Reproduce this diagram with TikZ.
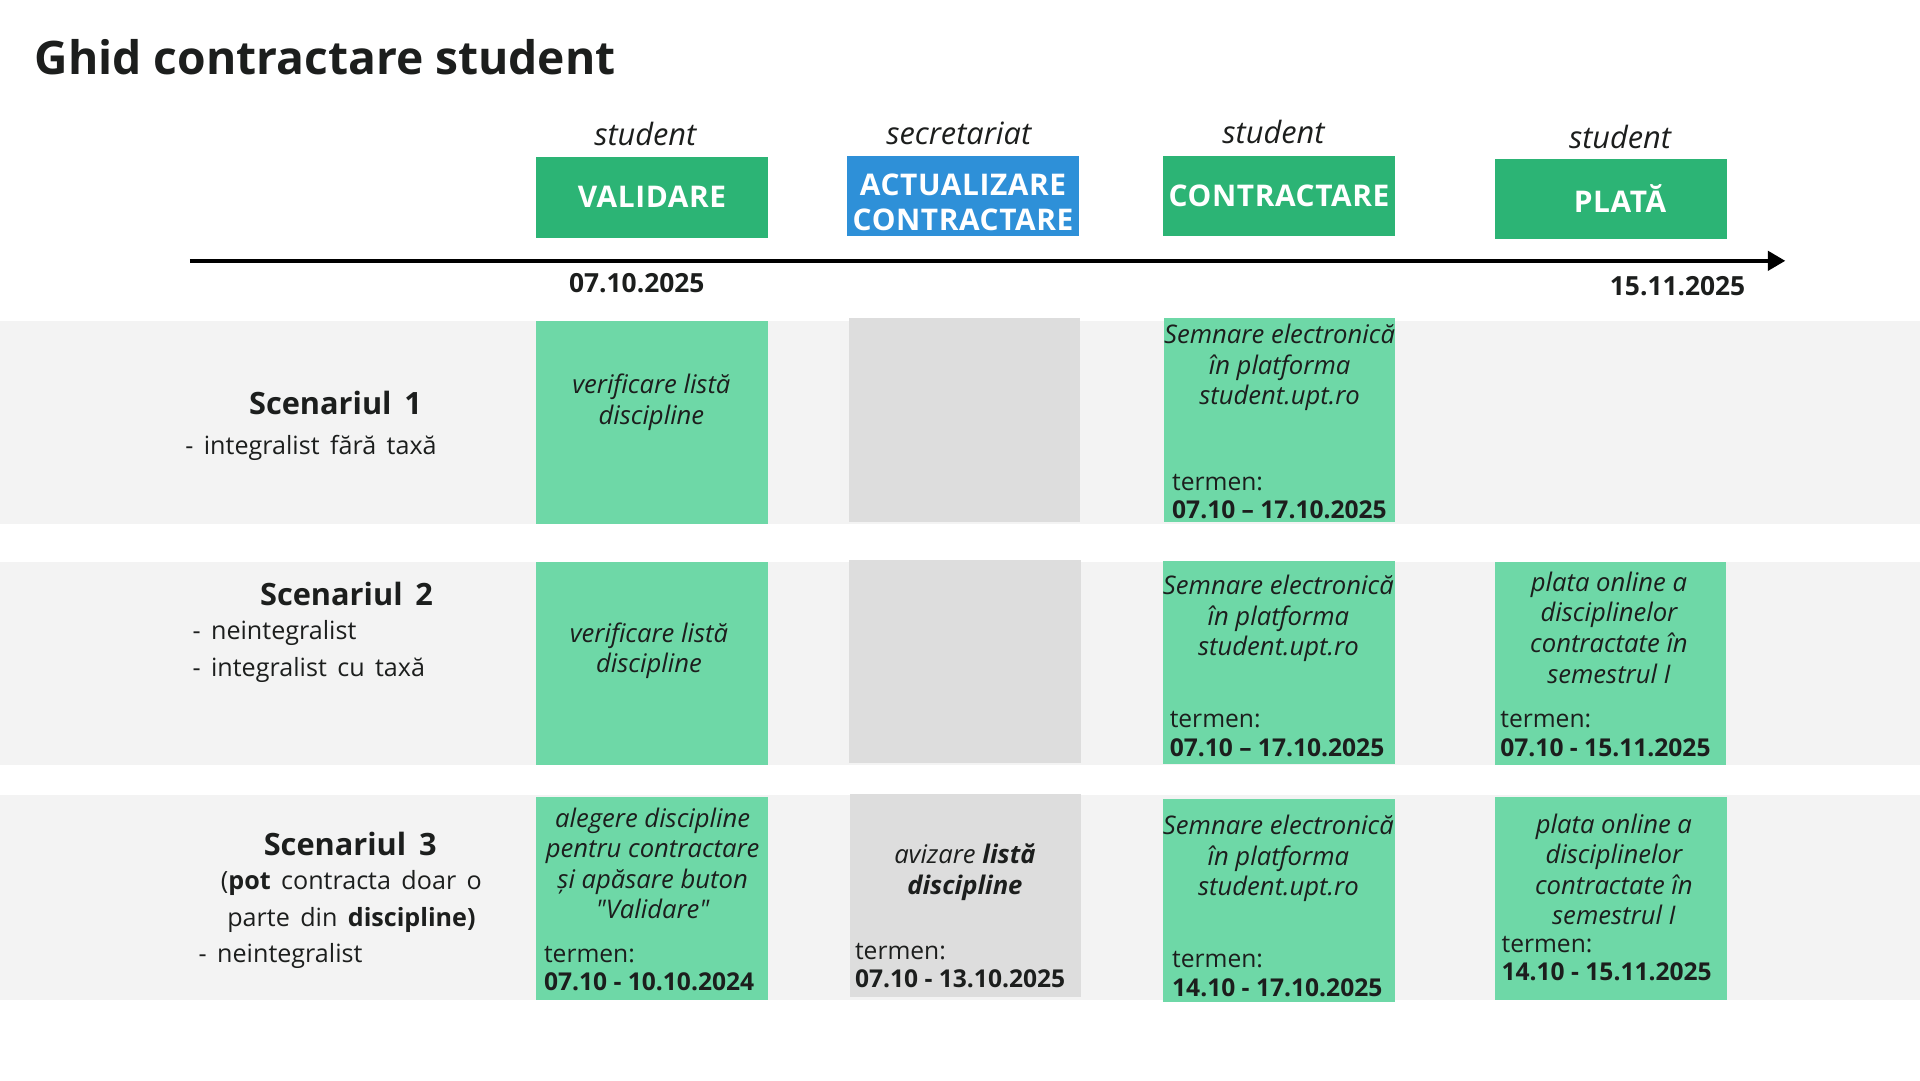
\documentclass[tikz,border=0pt]{standalone}
\usepackage{fontspec}
\setmainfont{Open Sans}
\newfontfamily\widefont{Open Sans}[WordSpace=1.6]
\newfontfamily\headfont{Open Sans}[LetterSpace=2]
\usetikzlibrary{arrows.meta,positioning}
\definecolor{headgreen}{RGB}{44,180,117}
\definecolor{headblue}{RGB}{46,144,216}
\definecolor{cellgreen}{RGB}{110,216,167}
\definecolor{cellgray}{RGB}{221,221,221}
\definecolor{band}{RGB}{243,243,243}
\definecolor{ink}{RGB}{28,30,29}
\newcommand\px{0.0245cm}
\tikzset{
  head/.style={fill=headgreen, text=white, font=\headfont\bfseries\fontsize{17}{20}\selectfont, minimum width=189*\px, minimum height=66*\px, inner sep=0pt, align=center},
  headtxt/.style={text=white, font=\headfont\bfseries\fontsize{17}{20}\selectfont, inner sep=0pt, align=center},
  role/.style={font=\itshape\fontsize{17.5}{20}\selectfont, text=ink, inner sep=0pt},
  cellg/.style={fill=cellgreen, minimum width=189*\px, minimum height=166*\px, inner sep=0pt},
  cellx/.style={cellg, fill=cellgray},
  celltxt/.style={font=\itshape\fontsize{14.6}{17.4}\selectfont, align=center, text=ink, inner sep=0pt},
  term/.style={font=\fontsize{14}{16}\selectfont, align=left, anchor=west, inner sep=0pt, text=ink},
  datum/.style={font=\bfseries\fontsize{15}{18}\selectfont, text=ink, inner sep=0pt},
  scen/.style={font=\bfseries\widefont\fontsize{17.5}{20}\selectfont, text=ink, inner sep=0pt},
  scensub/.style={font=\widefont\fontsize{14.3}{21}\selectfont, text=ink, inner sep=0pt}
}
\begin{document}
\begin{tikzpicture}[x=\px, y=-\px]
\useasboundingbox (0,0) rectangle (1568,882);
\fill[white] (0,0) rectangle (1568,882);
\node[anchor=base west, font=\bfseries\fontsize{26.3}{30}\selectfont, text=ink, inner sep=0pt] (title) at (28,61) {Ghid contractare student};

\node[role] (rval) at (527,109) {student};
\node[role] (ract) at (783,109) {secretariat};
\node[role] (rcon) at (1040,108) {student};
\node[role] (rpla) at (1323,112) {student};

\node[head] (val) at (532.5,161) {VALIDARE};
\node[head, fill=headblue] (act) at (786.5,160) {};
\node[headtxt] (acttxt) at (786.5,165.5) {ACTUALIZARE\\CONTRACTARE};
\node[head] (con) at (1044.5,160) {CONTRACTARE};
\node[head] (pla) at (1315.5,162.5) {};
\node[headtxt] (platxt) at (1323,162) {PLATĂ};

\coordinate (tstart) at (155,213);
\coordinate (tend) at (1458,213);
\draw[line width=2.2pt, -{Triangle[length=10pt,width=11pt]}] (tstart) -- (tend);
\node[datum] (d1) at (520,231) {07.10.2025};
\node[datum] (d2) at (1370,234) {15.11.2025};

\fill[band] (0,262) rectangle (1568,428);
\fill[band] (0,459) rectangle (1568,625);
\fill[band] (0,649) rectangle (1568,817);

\node[scen] (s1) at (274,329) {Scenariul 1};
\node[scensub] (s1a) at (254,366) {- integralist fără taxă};
\node[scen] (s2) at (283,485) {Scenariul 2};
\node[scensub, anchor=west] (s2a) at (157,517) {- neintegralist};
\node[scensub, anchor=west] (s2b) at (157,547) {- integralist cu taxă};
\node[scen] (s3) at (286,689) {Scenariul 3};
\node[scensub] (s3a) at (287,721) {(\textbf{pot} contracta doar o};
\node[scensub] (s3b) at (287,751) {parte din \textbf{discipline)}};
\node[scensub, anchor=west] (s3c) at (162,781) {- neintegralist};

\node[cellg] (s1val) at (532.5,345) {};
\node[cellx] (s1act) at (787.5,343) {};
\node[cellg] (s1con) at (1045,343) {};
\node[cellg] (s2val) at (532.5,542) {};
\node[cellx] (s2act) at (788,540) {};
\node[cellg] (s2con) at (1044.5,541) {};
\node[cellg] (s2pla) at (1315,542) {};
\node[cellg] (s3val) at (532.5,733.5) {};
\node[cellx] (s3act) at (788.5,731.5) {};
\node[cellg] (s3con) at (1044.5,735.5) {};
\node[cellg] (s3pla) at (1315.5,734) {};

\node[celltxt] (t1val) at (532,328.5) {verificare listă\\discipline};
\node[celltxt] (t1con) at (1045,300) {Semnare electronică\\în platforma\\student.upt.ro};
\node[term] (k1con) at (957,405.5) {termen:\\\textbf{07.10 – 17.10.2025}};

\node[celltxt] (t2val) at (530,531.5) {verificare listă\\discipline};
\node[celltxt] (t2con) at (1044,505) {Semnare electronică\\în platforma\\student.upt.ro};
\node[term] (k2con) at (955,599.5) {termen:\\\textbf{07.10 – 17.10.2025}};
\node[celltxt] (t2pla) at (1314,512.5) {plata online a\\disciplinelor\\contractate în\\semestrul I};
\node[term] (k2pla) at (1225,599.5) {termen:\\\textbf{07.10 - 15.11.2025}};

\node[celltxt] (t3val) at (533,705) {alegere discipline\\pentru contractare\\și apăsare buton\\\textquotedbl Validare\textquotedbl};
\node[term] (k3val) at (444,791) {termen:\\\textbf{07.10 - 10.10.2024}};
\node[celltxt] (t3act) at (788,712.5) {avizare \textbf{listă}\\\textbf{discipline}};
\node[term] (k3act) at (698,788.5) {termen:\\\textbf{07.10 - 13.10.2025}};
\node[celltxt] (t3con) at (1044,701) {Semnare electronică\\în platforma\\student.upt.ro};
\node[term] (k3con) at (957,795.5) {termen:\\\textbf{14.10 - 17.10.2025}};
\node[celltxt] (t3pla) at (1318,710) {plata online a\\disciplinelor\\contractate în\\semestrul I};
\node[term] (k3pla) at (1226,783) {termen:\\\textbf{14.10 - 15.11.2025}};
\end{tikzpicture}
\end{document}
